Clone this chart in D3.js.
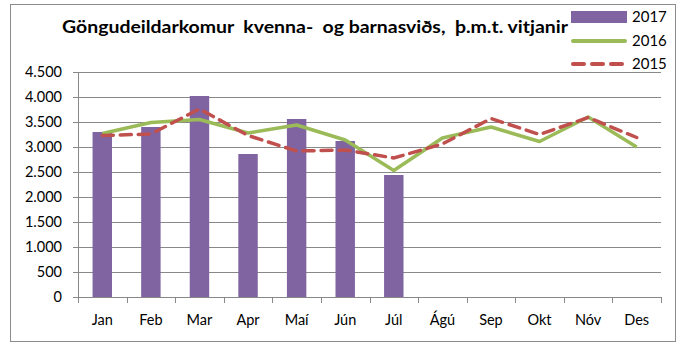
<!DOCTYPE html>
<html>
<head>
<meta charset="utf-8">
<script src="https://cdn.jsdelivr.net/npm/d3@7"></script>
<style>
  html, body { margin: 0; padding: 0; background: #fff; }
  svg { display: block; font-family: Lato, "Open Sans", sans-serif; }
</style>
</head>
<body>
<svg id="chart" width="683" height="344"></svg>
<script>
// Monthly outpatient visits, women's and children's division
const months = ["Jan", "Feb", "Mar", "Apr", "Maí", "Jún", "Júl", "Ágú", "Sep", "Okt", "Nóv", "Des"];
const visits2017 = [3300, 3400, 4020, 2860, 3560, 3120, 2440];
const visits2016 = [3270, 3490, 3550, 3280, 3440, 3140, 2530, 3180, 3400, 3110, 3600, 3000];
const visits2015 = [3230, 3260, 3760, 3230, 2920, 2940, 2780, 3060, 3570, 3250, 3590, 3190];
const yTicks = [0, 500, 1000, 1500, 2000, 2500, 3000, 3500, 4000, 4500];
const seriesNames = ["2017", "2016", "2015"];
const titleText = "Göngudeildarkomur  kvenna-  og barnasviðs,  þ.m.t. vitjanir";

const colors = { bar: "#8064A2", line16: "#9BBB59", line15: "#C0504D", grid: "#888888" };

const svg = d3.select("#chart");

// outer frame
svg.append("rect")
  .attr("x", 10.5).attr("y", 4.5).attr("width", 665).attr("height", 337)
  .attr("fill", "none").attr("stroke", "#8c8c8c").attr("stroke-width", 1);

const plot = { left: 78, right: 661, top: 72, bottom: 297 };

const x = d3.scaleBand().domain(months).range([plot.left, plot.right]);
const y = d3.scaleLinear().domain([0, 4500]).range([plot.bottom, plot.top]);

// horizontal gridlines with left ticks
const yAxis = d3.axisLeft(y)
  .tickValues(yTicks)
  .tickSize(-(plot.right - plot.left))
  .tickPadding(16)
  .tickFormat(d => d3.format(",")(d).replace(/,/g, "."));

const gy = svg.append("g").attr("transform", `translate(${plot.left},0)`).call(yAxis);
gy.select(".domain").remove();
gy.selectAll(".tick line")
  .attr("x1", -5)
  .attr("stroke", colors.grid).attr("stroke-width", 1);
gy.selectAll(".tick text")
  .attr("font-size", 14.5).attr("fill", "#000")
  .style("font-family", "Lato, sans-serif");

// y axis line
svg.append("line")
  .attr("x1", plot.left + 0.5).attr("x2", plot.left + 0.5)
  .attr("y1", plot.top).attr("y2", plot.bottom)
  .attr("stroke", colors.grid);

// bars for 2017
const barW = x.bandwidth() * 0.4;
svg.append("g").selectAll("rect")
  .data(visits2017)
  .join("rect")
  .attr("x", (d, i) => x(months[i]) + (x.bandwidth() - barW) / 2)
  .attr("y", d => y(d))
  .attr("width", barW)
  .attr("height", d => y(0) - y(d))
  .attr("fill", colors.bar);

// x axis with ticks at category boundaries
const gx = svg.append("g").attr("transform", `translate(0,${plot.bottom})`);
gx.append("line")
  .attr("x1", plot.left).attr("x2", plot.right)
  .attr("y1", 0.5).attr("y2", 0.5)
  .attr("stroke", colors.grid);
const boundaries = months.map(m => x(m)).concat([plot.right]);
gx.selectAll("line.tk")
  .data(boundaries)
  .join("line")
  .attr("class", "tk")
  .attr("x1", d => Math.round(d) + 0.5).attr("x2", d => Math.round(d) + 0.5)
  .attr("y1", 0).attr("y2", 6)
  .attr("stroke", colors.grid);
gx.selectAll("text")
  .data(months)
  .join("text")
  .attr("x", d => x(d) + x.bandwidth() / 2)
  .attr("y", 28)
  .attr("text-anchor", "middle")
  .attr("font-size", 14.5)
  .text(d => d);

// lines
const lineGen = d3.line()
  .x((d, i) => x(months[i]) + x.bandwidth() / 2)
  .y(d => y(d));

svg.append("path")
  .datum(visits2016)
  .attr("d", lineGen)
  .attr("fill", "none")
  .attr("stroke", colors.line16)
  .attr("stroke-width", 3.5)
  .attr("stroke-linejoin", "round");

svg.append("path")
  .datum(visits2015)
  .attr("d", lineGen)
  .attr("fill", "none")
  .attr("stroke", colors.line15)
  .attr("stroke-width", 3.5)
  .attr("stroke-dasharray", "11,7")
  .attr("stroke-linecap", "round");

// title
svg.append("text")
  .attr("x", 62).attr("y", 33)
  .attr("font-size", 16.5)
  .attr("font-weight", "bold")
  .attr("textLength", 506)
  .attr("lengthAdjust", "spacingAndGlyphs")
  .style("white-space", "pre")
  .text(titleText);

// legend
const legend = svg.append("g");
const legY = [17, 41, 64];
seriesNames.forEach((name, i) => {
  const g = legend.append("g").attr("transform", `translate(0,${legY[i]})`);
  if (i === 0) {
    g.append("rect").attr("x", 571).attr("y", -6).attr("width", 56).attr("height", 12).attr("fill", colors.bar);
  } else if (i === 1) {
    g.append("line").attr("x1", 573).attr("x2", 625).attr("y1", 0).attr("y2", 0)
      .attr("stroke", colors.line16).attr("stroke-width", 4).attr("stroke-linecap", "round");
  } else {
    g.append("line").attr("x1", 573).attr("x2", 625).attr("y1", 0).attr("y2", 0)
      .attr("stroke", colors.line15).attr("stroke-width", 4)
      .attr("stroke-dasharray", "11,8").attr("stroke-linecap", "round");
  }
  g.append("text").attr("x", 632).attr("y", 5).attr("font-size", 15).text(name);
});
</script>
</body>
</html>
